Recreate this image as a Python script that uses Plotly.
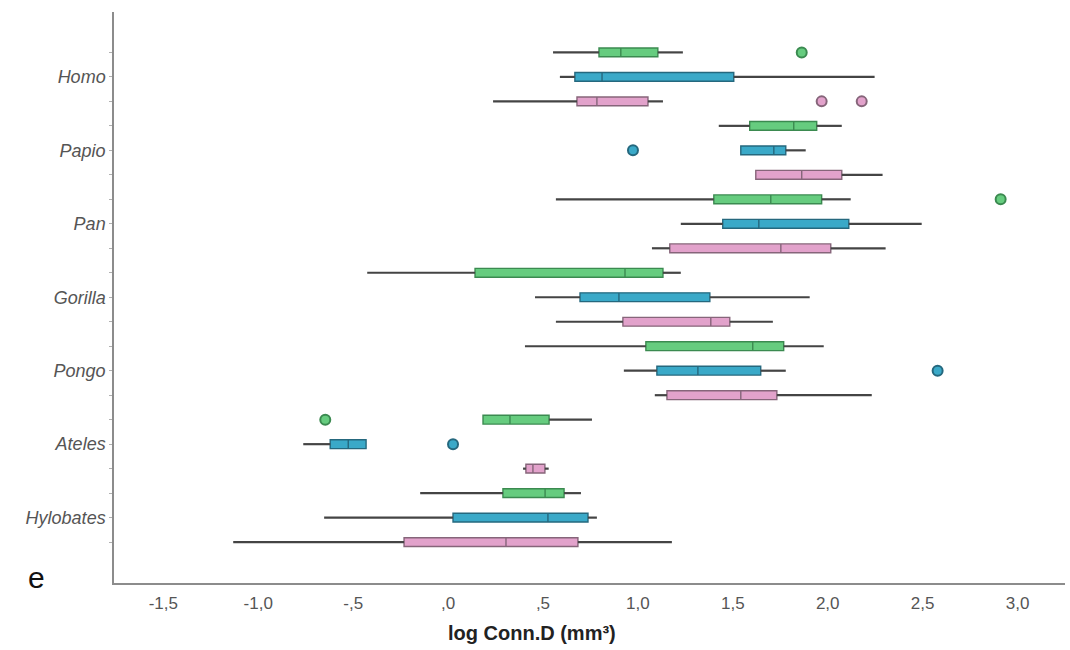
import plotly.graph_objects as go

# Species, top to bottom; each species has three box rows (green, blue, pink)
species = ["Homo", "Papio", "Pan", "Gorilla", "Pongo", "Ateles", "Hylobates"]

# Five-number summaries per series (one value per species, same order)
green_lo = [0.553, 1.426, 0.568, -0.426, 0.405, 0.184, -0.147]
green_q1 = [0.795, 1.589, 1.400, 0.142, 1.042, 0.184, 0.289]
green_md = [0.910, 1.821, 1.700, 0.932, 1.605, 0.326, 0.511]
green_q3 = [1.105, 1.942, 1.968, 1.132, 1.768, 0.532, 0.611]
green_hi = [1.237, 2.074, 2.121, 1.226, 1.979, 0.758, 0.700]

blue_lo = [0.589, 1.542, 1.226, 0.458, 0.926, -0.763, -0.653]
blue_q1 = [0.668, 1.542, 1.447, 0.695, 1.100, -0.621, 0.026]
blue_md = [0.811, 1.716, 1.637, 0.900, 1.316, -0.526, 0.526]
blue_q3 = [1.505, 1.779, 2.111, 1.379, 1.647, -0.432, 0.737]
blue_hi = [2.247, 1.884, 2.495, 1.905, 1.779, -0.432, 0.784]

pink_lo = [0.237, 1.621, 1.074, 0.568, 1.089, 0.395, -1.132]
pink_q1 = [0.679, 1.621, 1.168, 0.921, 1.153, 0.410, -0.232]
pink_md = [0.784, 1.863, 1.753, 1.384, 1.542, 0.447, 0.305]
pink_q3 = [1.053, 2.074, 2.016, 1.484, 1.732, 0.510, 0.684]
pink_hi = [1.132, 2.289, 2.305, 1.711, 2.232, 0.530, 1.179]

# Outlying observations: (species, value)
green_out = [("Homo", 1.863), ("Pan", 2.911), ("Ateles", -0.647)]
blue_out = [("Papio", 0.974), ("Pongo", 2.579), ("Ateles", 0.026)]
pink_out = [("Homo", 1.968), ("Homo", 2.179)]

x_ticks = [-1.5, -1.0, -0.5, 0.0, 0.5, 1.0, 1.5, 2.0, 2.5, 3.0]
x_tick_text = ["-1,5", "-1,0", "-,5", ",0", ",5", "1,0", "1,5", "2,0", "2,5", "3,0"]

series = [
    dict(offset=0, fill="#66cc7f", edge="#3b8a50",
         lo=green_lo, q1=green_q1, md=green_md, q3=green_q3, hi=green_hi, out=green_out),
    dict(offset=1, fill="#3aa9c8", edge="#25687e",
         lo=blue_lo, q1=blue_q1, md=blue_md, q3=blue_q3, hi=blue_hi, out=blue_out),
    dict(offset=2, fill="#e2a2cb", edge="#86657a",
         lo=pink_lo, q1=pink_q1, md=pink_md, q3=pink_q3, hi=pink_hi, out=pink_out),
]

WHISKER = "#444444"
fig = go.Figure()

for s in series:
    rows = [3 * i + s["offset"] for i in range(len(species))]

    # whiskers: lower fence -> Q1 and Q3 -> upper fence
    wx, wy = [], []
    for r, lo, q1, q3, hi in zip(rows, s["lo"], s["q1"], s["q3"], s["hi"]):
        wx += [lo, q1, None, q3, hi, None]
        wy += [r, r, None, r, r, None]
    fig.add_trace(go.Scatter(x=wx, y=wy, mode="lines",
                             line=dict(color=WHISKER, width=2.2),
                             hoverinfo="skip", showlegend=False))

    fig.add_trace(go.Box(
        orientation="h", y=rows,
        q1=s["q1"], median=s["md"], q3=s["q3"],
        lowerfence=s["q1"], upperfence=s["q3"],
        width=0.36, whiskerwidth=0, boxpoints=False,
        fillcolor=s["fill"], line=dict(color=s["edge"], width=1.4),
        showlegend=False,
    ))

    ox = [v for _, v in s["out"]]
    oy = [3 * species.index(name) + s["offset"] for name, _ in s["out"]]
    fig.add_trace(go.Scatter(
        x=ox, y=oy, mode="markers",
        marker=dict(size=10, color=s["fill"], line=dict(color=s["edge"], width=2)),
        showlegend=False,
    ))

all_rows = list(range(3 * len(species)))
row_text = ["" if r % 3 != 1 else species[r // 3] for r in all_rows]

fig.update_layout(
    width=1070, height=650,
    margin=dict(l=114, r=5, t=12, b=67),
    paper_bgcolor="white", plot_bgcolor="white",
    boxmode="overlay",
    font=dict(family="Liberation Sans, Arial, sans-serif", color="#555555"),
    xaxis=dict(
        range=[-1.76, 3.25], tickvals=x_ticks, ticktext=x_tick_text,
        showgrid=False, zeroline=False, showline=True,
        linecolor="#8c8c8c", linewidth=1.5, ticks="",
        tickfont=dict(size=17, color="#555555"),
        ticklabelstandoff=4,
    ),
    yaxis=dict(
        range=[21.67, -1.65], tickvals=all_rows, ticktext=row_text,
        showgrid=False, zeroline=False, showline=True,
        linecolor="#8c8c8c", linewidth=1.5,
        ticks="outside", ticklen=3, tickcolor="#b0b0b0",
        tickfont=dict(size=18, color="#555555", style="italic"),
    ),
    annotations=[
        dict(text="<b>log Conn.D (mm³)</b>", xref="paper", yref="paper",
             x=0.4395, y=-0.087, xanchor="center", yanchor="middle",
             showarrow=False, font=dict(size=20, color="#222222")),
        dict(text="e", xref="paper", yref="paper",
             x=-0.081, y=0.01, xanchor="center", yanchor="middle",
             showarrow=False, font=dict(size=30, color="#111111")),
    ],
)

fig.write_html("out.html")
